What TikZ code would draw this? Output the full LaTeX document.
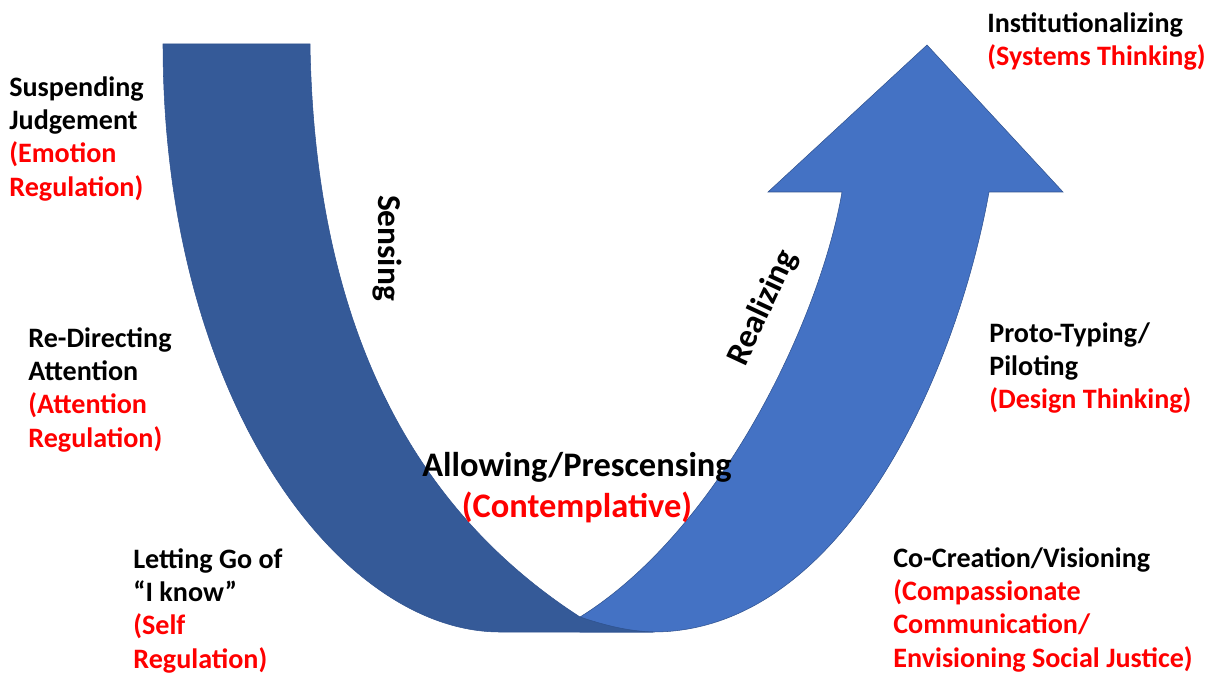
\documentclass[tikz,border=0pt]{standalone}
\usepackage{fontspec}
\setmainfont{Carlito}
\usepackage{tikz}
\usetikzlibrary{positioning}
\definecolor{darkband}{HTML}{355A98}
\definecolor{lightband}{HTML}{4472C4}
\definecolor{bandedge}{HTML}{2F528F}
\definecolor{labred}{HTML}{FF0000}

\begin{document}
\begin{tikzpicture}[x=0.02cm, y=-0.02cm,
    lab/.style={anchor=north west, align=left, inner sep=0pt, font=\fontsize{16}{19}\selectfont\bfseries},
    biglab/.style={anchor=north, align=center, inner sep=0pt, font=\fontsize{19.6}{23.3}\selectfont\bfseries},
    phase/.style={inner sep=0pt, font=\fontsize{19}{23}\selectfont\bfseries}]
    \useasboundingbox (0,0) rectangle (1212,675);

    % right band with arrow head
    \fill[lightband, draw=bandedge, line width=0.3pt]
    (580,617) .. controls (720,530) and (820,320) .. (842,192)
    -- (768,192) -- (927,45) -- (1063,192) -- (989,192)
    .. controls (955,380) and (840,632) .. (653,632)
    -- (580,632) -- cycle;

    % left band
    \fill[darkband, draw=bandedge, line width=0.3pt]
    (163,44) -- (310,44)
    .. controls (315,350) and (430,520) .. (580,617)
    .. controls (610,627) and (630,631) .. (653,632)
    -- (500,632)
    .. controls (340,632) and (163,400) .. (163,44) -- cycle;

    \node[phase, rotate=-90] (sensing) at (387,248) {Sensing};
    \node[phase, rotate=65] (realizing) at (763,308) {Realizing};

    \node[lab] (suspend) at (9,76) {Suspending\\Judgement\\\textcolor{labred}{(Emotion}\\\textcolor{labred}{Regulation)}};
    \node[lab] (redirect) at (28,327) {Re-Directing\\Attention\\\textcolor{labred}{(Attention}\\\textcolor{labred}{Regulation)}};
    \node[lab] (lettinggo) at (133,548) {Letting Go of\\“I know”\\\textcolor{labred}{(Self}\\\textcolor{labred}{Regulation)}};
    \node[biglab] (allowing) at (577,452) {Allowing/Prescensing\\\textcolor{labred}{(Contemplative)}};
    \node[lab] (institut) at (987,12) {Institutionalizing\\\textcolor{labred}{(Systems Thinking)}};
    \node[lab] (prototype) at (989,322) {Proto-Typing/\\Piloting\\\textcolor{labred}{(Design Thinking)}};
    \node[lab] (cocreate) at (893,547) {Co-Creation/Visioning\\\textcolor{labred}{(Compassionate}\\\textcolor{labred}{Communication/}\\\textcolor{labred}{Envisioning Social Justice)}};
\end{tikzpicture}
\end{document}
